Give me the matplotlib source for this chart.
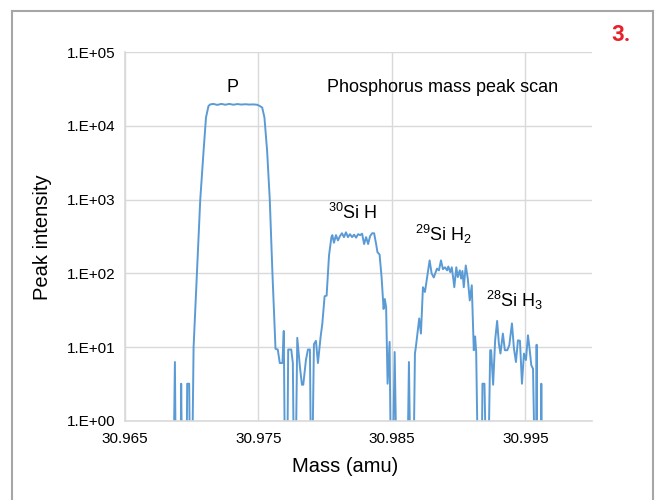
import matplotlib
matplotlib.use("Agg")
import matplotlib.pyplot as plt
from matplotlib.lines import Line2D

plt.rcParams['font.family'] = ['Liberation Sans', 'DejaVu Sans']
plt.rcParams['mathtext.fontset'] = 'custom'
plt.rcParams['mathtext.rm'] = 'Liberation Sans'
plt.rcParams['mathtext.it'] = 'Liberation Sans'
plt.rcParams['mathtext.bf'] = 'Liberation Sans:bold'

LOW = 0.3  # below axis floor (no signal)

mass = [30.96838, 30.96865, 30.96874, 30.96880, 30.96917, 30.96921, 30.96927,
        30.96962, 30.96966, 30.96981, 30.96986, 30.97004, 30.97014, 30.97039,
        30.97064, 30.97089, 30.97107, 30.97126, 30.97139, 30.97162, 30.97192,
        30.97222, 30.97252, 30.97282, 30.97312, 30.97342, 30.97372, 30.97402,
        30.97432, 30.97462, 30.97490, 30.97511, 30.97528, 30.97545, 30.97565,
        30.97585, 30.97605, 30.97628, 30.97645, 30.97660, 30.97680, 30.97690,
        30.97698, 30.97717, 30.97723, 30.97746, 30.97758, 30.97765, 30.97780,
        30.97791, 30.97811, 30.97826, 30.97836, 30.97856, 30.97871, 30.97886,
        30.97893, 30.97904, 30.97916, 30.97931, 30.97946, 30.97966, 30.97979,
        30.97996, 30.98011, 30.98029, 30.98047, 30.98054, 30.98066, 30.98081,
        30.98096, 30.98111, 30.98126, 30.98141, 30.98156, 30.98171, 30.98186,
        30.98202, 30.98217, 30.98232, 30.98247, 30.98262, 30.98277, 30.98292,
        30.98307, 30.98322, 30.98337, 30.98352, 30.98367, 30.98382, 30.98392,
        30.98408, 30.98423, 30.98438, 30.98447, 30.98457, 30.98468, 30.98483,
        30.98492, 30.98508, 30.98521, 30.98534, 30.98618, 30.98628, 30.98638,
        30.98663, 30.98673, 30.98680, 30.98693, 30.98705, 30.98718, 30.98733,
        30.98748, 30.98768, 30.98783, 30.98798, 30.98814, 30.98829, 30.98838,
        30.98853, 30.98868, 30.98883, 30.98898, 30.98914, 30.98923, 30.98938,
        30.98949, 30.98959, 30.98968, 30.98983, 30.98994, 30.99009, 30.99019,
        30.99029, 30.99039, 30.99054, 30.99069, 30.99084, 30.99099, 30.99114,
        30.99124, 30.99132, 30.99144, 30.99174, 30.99179, 30.99194, 30.99205,
        30.99224, 30.99237, 30.99244, 30.99259, 30.99274, 30.99289, 30.99302,
        30.99314, 30.99332, 30.99347, 30.99365, 30.99380, 30.99400, 30.99415,
        30.99430, 30.99445, 30.99460, 30.99475, 30.99490, 30.99505, 30.99520,
        30.99532, 30.99545, 30.99558, 30.99570, 30.99581, 30.99585, 30.99589,
        30.99617, 30.99620, 30.99624, 30.99643]

intensity = [LOW, LOW, 6.3, LOW, LOW, 3.2, LOW,
             LOW, 3.2, 3.2, LOW, LOW, 10, 100,
             1000, 4600, 13000, 18600, 19500, 19800, 19200,
             19800, 19300, 19800, 19300, 19700, 19400, 19600,
             19400, 19500, 19300, 18500, 17700, 13000, 4600,
             1000, 100, 9.5, 9.3, 6.1, 6.1, 16.6,
             LOW, LOW, 9.3, 9.3, 6.1, LOW, LOW,
             13.4, 5.4, 3.1, 3.1, 6.7, 9.3, 9.3,
             LOW, LOW, 11, 12.2, 6.1, 13.8, 21,
             49, 50, 175, 310, 330, 260, 330,
             280, 320, 350, 310, 360, 310, 340,
             310, 335, 305, 340, 330, 345, 250,
             310, 250, 320, 350, 350, 250, 194,
             180, 89, 33, 45, 35, 3.2, 11.8,
             LOW, LOW, 8.6, LOW, LOW, 6.3, LOW,
             LOW, 8.2, 10.1, 16, 24.5, 15.3, 65,
             56, 99, 150, 100, 88, 104, 116,
             110, 150, 114, 121, 110, 124, 104,
             121, 89, 65, 121, 89, 110, 85,
             108, 65, 128, 85, 43, 69, 9.1,
             14, 8.6, LOW, LOW, 3.2, 3.2, LOW,
             LOW, 9.1, 9.1, 3.1, 12.4, 22.7, 11.2,
             8.2, 15.3, 9.1, 9.1, 10.6, 21, 9.6,
             6.3, 12.4, 12.2, 3.2, 8.2, 6.7, 14.5,
             9.6, 5.7, 5.1, LOW, LOW, 10.8, LOW,
             LOW, 3.2, LOW, LOW]

y_ticks = [1, 10, 100, 1000, 10000, 100000]
y_labels = ['1.E+00', '1.E+01', '1.E+02', '1.E+03', '1.E+04', '1.E+05']
x_ticks = [30.965, 30.975, 30.985, 30.995]
x_labels = ['30.965', '30.975', '30.985', '30.995']

W, H = 657, 500
fig = plt.figure(figsize=(W / 100, H / 100), dpi=100)
fig.patch.set_facecolor('white')
ax = fig.add_axes([125 / W, 1 - 421 / H, (592 - 125) / W, (421 - 52) / H])

grid_c = '#d9d9d9'
ax.plot(mass, intensity, color='#5b9bd5', lw=1.4, solid_joinstyle='round')
ax.set_yscale('log')
ax.set_ylim(1, 1e5)
ax.set_xlim(30.965, 31.000)
ax.set_yticks(y_ticks)
ax.set_yticklabels(y_labels)
ax.yaxis.set_minor_locator(matplotlib.ticker.NullLocator())
ax.set_xticks(x_ticks)
ax.set_xticklabels(x_labels)
ax.tick_params(axis='both', length=0, labelsize=11, colors='black')
ax.tick_params(axis='y', pad=7)
ax.tick_params(axis='x', pad=8)
ax.grid(True, color=grid_c, lw=1.0)
ax.set_axisbelow(True)
for s in ['top', 'right']:
    ax.spines[s].set_visible(False)
for s in ['left', 'bottom']:
    ax.spines[s].set_color(grid_c)
    ax.spines[s].set_linewidth(1.2)

def px(x, y):
    return x / W, 1 - y / H

fs = 13
ax.text(*px(233, 88), 'P', transform=fig.transFigure, ha='center', va='center', fontsize=fs)
ax.text(*px(443, 88), 'Phosphorus mass peak scan', transform=fig.transFigure,
        ha='center', va='center', fontsize=fs)
ax.text(*px(353, 213), r'$^{30}$Si H', transform=fig.transFigure, ha='center', va='center', fontsize=fs)
ax.text(*px(444, 234), r'$^{29}$Si H$_2$', transform=fig.transFigure, ha='center', va='center', fontsize=fs)
ax.text(*px(515, 300), r'$^{28}$Si H$_3$', transform=fig.transFigure, ha='center', va='center', fontsize=fs)

fig.text(*px(345, 467), 'Mass (amu)', ha='center', va='center', fontsize=14.5)
fig.text(*px(42, 237), 'Peak intensity', ha='center', va='center', rotation=90, fontsize=14.5)
fig.text(*px(621, 35), '3.', ha='center', va='center', fontsize=16, fontweight='bold',
         color='#e8202a', family=['Roboto', 'Liberation Sans'])

bc = '#a6a6a6'
fig.add_artist(Line2D([12 / W, 12 / W], [0, 1 - 11 / H], color=bc, lw=1.5, transform=fig.transFigure))
fig.add_artist(Line2D([12 / W, 653 / W], [1 - 11 / H, 1 - 11 / H], color=bc, lw=1.5, transform=fig.transFigure))
fig.add_artist(Line2D([653 / W, 653 / W], [0, 1 - 11 / H], color=bc, lw=1.5, transform=fig.transFigure))

fig.savefig('out.png', dpi=100)
